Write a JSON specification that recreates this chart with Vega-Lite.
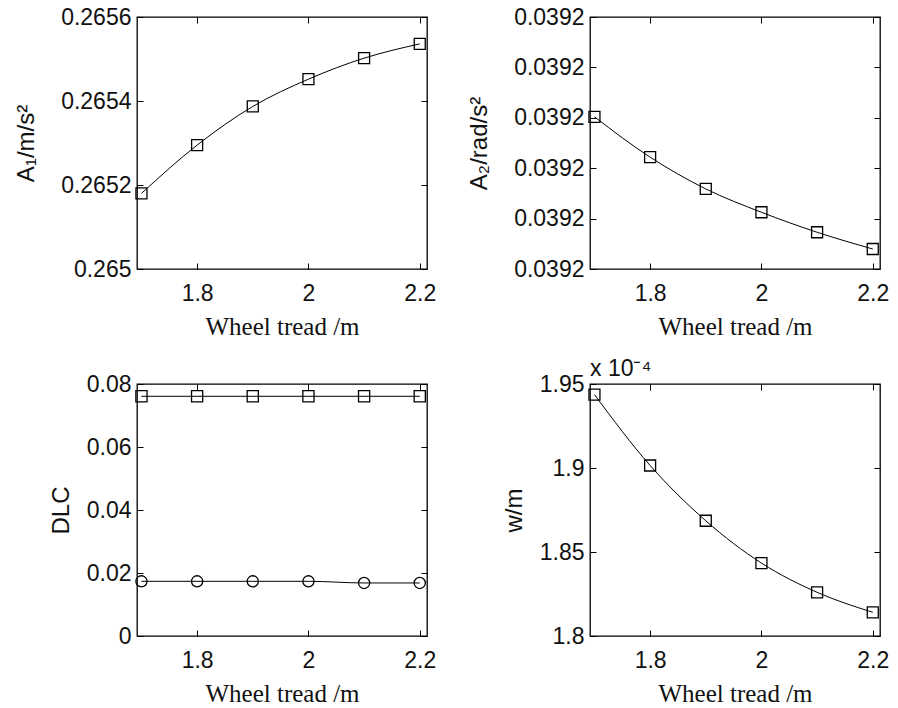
{
  "$schema": "https://vega.github.io/schema/vega-lite/v6.json",
  "background": "white",
  "padding": {"left": 14, "top": 5, "right": 5, "bottom": 5},
  "columns": 2,
  "bounds": "flush",
  "spacing": {"row": 115, "column": 163},
  "datasets": {
    "accel": [
      {"wheel": 1.7, "a1": 0.26518, "a2": 0.0392003020},
      {"wheel": 1.8, "a1": 0.265295, "a2": 0.0392002219},
      {"wheel": 1.9, "a1": 0.265387, "a2": 0.0392001589},
      {"wheel": 2.0, "a1": 0.265452, "a2": 0.0392001126},
      {"wheel": 2.1, "a1": 0.265502, "a2": 0.0392000729},
      {"wheel": 2.2, "a1": 0.265536, "a2": 0.0392000397}
    ],
    "dlc": [
      {"wheel": 1.7, "dlc": 0.0761, "marker": "square"},
      {"wheel": 1.8, "dlc": 0.0761, "marker": "square"},
      {"wheel": 1.9, "dlc": 0.0761, "marker": "square"},
      {"wheel": 2.0, "dlc": 0.0761, "marker": "square"},
      {"wheel": 2.1, "dlc": 0.0761, "marker": "square"},
      {"wheel": 2.2, "dlc": 0.0761, "marker": "square"},
      {"wheel": 1.7, "dlc": 0.01736, "marker": "circle"},
      {"wheel": 1.8, "dlc": 0.01736, "marker": "circle"},
      {"wheel": 1.9, "dlc": 0.01736, "marker": "circle"},
      {"wheel": 2.0, "dlc": 0.01736, "marker": "circle"},
      {"wheel": 2.1, "dlc": 0.01684, "marker": "circle"},
      {"wheel": 2.2, "dlc": 0.01684, "marker": "circle"}
    ],
    "wear": [
      {"wheel": 1.7, "w": 1.9437},
      {"wheel": 1.8, "w": 1.9015},
      {"wheel": 1.9, "w": 1.8686},
      {"wheel": 2.0, "w": 1.8434},
      {"wheel": 2.1, "w": 1.8260},
      {"wheel": 2.2, "w": 1.8141}
    ]
  },
  "config": {
    "font": "Liberation Sans",
    "view": {"stroke": "#000", "strokeWidth": 1.3},
    "axis": {
      "domain": false,
      "grid": false,
      "tickColor": "#000",
      "tickSize": -6,
      "tickWidth": 1,
      "labelFont": "Liberation Sans",
      "labelFontSize": 23,
      "labelColor": "#111",
      "titleFont": "Liberation Sans",
      "titleFontSize": 24,
      "titleFontWeight": "normal",
      "titleColor": "#111"
    },
    "axisX": {"titleFont": "Liberation Serif", "titleFontSize": 25, "labelPadding": 19, "titlePadding": 9},
    "axisY": {"labelPadding": 12, "titlePadding": 13}
  },
  "concat": [
    {
      "width": 290,
      "height": 252,
      "data": {"name": "accel"},
      "layer": [
        {
          "mark": {"type": "line", "interpolate": "monotone", "color": "#000", "strokeWidth": 1},
          "encoding": {
            "x": {"field": "wheel", "type": "quantitative", "scale": {"domain": [1.692, 2.213], "nice": false, "zero": false}, "axis": {"values": [1.8, 2, 2.2], "format": "~g", "title": "Wheel tread /m"}},
            "y": {"field": "a1", "type": "quantitative", "scale": {"domain": [0.265, 0.2656], "nice": false, "zero": false}, "axis": {"values": [0.265, 0.2652, 0.2654, 0.2656], "format": ".4~f", "title": "A₁/m/s²", "titlePadding": 22}}
          }
        },
        {
          "mark": {"type": "point", "shape": "square", "size": 121, "filled": false, "color": "#000", "strokeWidth": 1.3, "opacity": 1},
          "encoding": {
            "x": {"field": "wheel", "type": "quantitative", "axis": {"orient": "top", "labels": false, "title": null, "values": [1.8, 2, 2.2]}},
            "y": {"field": "a1", "type": "quantitative", "axis": {"orient": "right", "labels": false, "title": null, "values": [0.265, 0.2652, 0.2654, 0.2656]}}
          }
        }
      ],
      "resolve": {"axis": {"x": "independent", "y": "independent"}}
    },
    {
      "width": 290,
      "height": 252,
      "data": {"name": "accel"},
      "layer": [
        {
          "mark": {"type": "line", "interpolate": "monotone", "color": "#000", "strokeWidth": 1},
          "encoding": {
            "x": {"field": "wheel", "type": "quantitative", "scale": {"domain": [1.692, 2.213], "nice": false, "zero": false}, "axis": {"values": [1.8, 2, 2.2], "format": "~g", "title": "Wheel tread /m"}},
            "y": {"field": "a2", "type": "quantitative", "scale": {"domain": [0.0392, 0.0392005], "nice": false, "zero": false}, "axis": {"values": [0.0392, 0.0392001, 0.0392002, 0.0392003, 0.0392004, 0.0392005], "format": ".4f", "title": "A₂/rad/s²", "titlePadding": 22}}
          }
        },
        {
          "mark": {"type": "point", "shape": "square", "size": 121, "filled": false, "color": "#000", "strokeWidth": 1.3, "opacity": 1},
          "encoding": {
            "x": {"field": "wheel", "type": "quantitative", "axis": {"orient": "top", "labels": false, "title": null, "values": [1.8, 2, 2.2]}},
            "y": {"field": "a2", "type": "quantitative", "axis": {"orient": "right", "labels": false, "title": null, "values": [0.0392, 0.0392001, 0.0392002, 0.0392003, 0.0392004, 0.0392005]}}
          }
        }
      ],
      "resolve": {"axis": {"x": "independent", "y": "independent"}}
    },
    {
      "width": 290,
      "height": 252,
      "data": {"name": "dlc"},
      "layer": [
        {
          "mark": {"type": "line", "interpolate": "monotone", "color": "#000", "strokeWidth": 1},
          "encoding": {
            "x": {"field": "wheel", "type": "quantitative", "scale": {"domain": [1.692, 2.213], "nice": false, "zero": false}, "axis": {"values": [1.8, 2, 2.2], "format": "~g", "title": "Wheel tread /m"}},
            "y": {"field": "dlc", "type": "quantitative", "scale": {"domain": [0, 0.08], "nice": false}, "axis": {"values": [0, 0.02, 0.04, 0.06, 0.08], "format": ".2~f", "title": "DLC"}},
            "detail": {"field": "marker", "type": "nominal"}
          }
        },
        {
          "mark": {"type": "point", "size": 125, "filled": false, "color": "#000", "strokeWidth": 1.3, "opacity": 1},
          "encoding": {
            "x": {"field": "wheel", "type": "quantitative", "axis": {"orient": "top", "labels": false, "title": null, "values": [1.8, 2, 2.2]}},
            "y": {"field": "dlc", "type": "quantitative", "axis": {"orient": "right", "labels": false, "title": null, "values": [0, 0.02, 0.04, 0.06, 0.08]}},
            "shape": {"field": "marker", "type": "nominal", "scale": {"domain": ["square", "circle"], "range": ["square", "circle"]}, "legend": null}
          }
        }
      ],
      "resolve": {"axis": {"x": "independent", "y": "independent"}}
    },
    {
      "width": 290,
      "height": 252,
      "data": {"name": "wear"},
      "title": {"text": "x 10⁻⁴", "anchor": "start", "frame": "group", "font": "Liberation Sans", "fontSize": 23, "fontWeight": "normal", "color": "#111", "offset": -26, "baseline": "alphabetic"},
      "layer": [
        {
          "mark": {"type": "line", "interpolate": "monotone", "color": "#000", "strokeWidth": 1},
          "encoding": {
            "x": {"field": "wheel", "type": "quantitative", "scale": {"domain": [1.692, 2.213], "nice": false, "zero": false}, "axis": {"values": [1.8, 2, 2.2], "format": "~g", "title": "Wheel tread /m"}},
            "y": {"field": "w", "type": "quantitative", "scale": {"domain": [1.8, 1.95], "nice": false, "zero": false}, "axis": {"values": [1.8, 1.85, 1.9, 1.95], "format": ".2~f", "title": "w/m"}}
          }
        },
        {
          "mark": {"type": "point", "shape": "square", "size": 121, "filled": false, "color": "#000", "strokeWidth": 1.3, "opacity": 1},
          "encoding": {
            "x": {"field": "wheel", "type": "quantitative", "axis": {"orient": "top", "labels": false, "title": null, "values": [1.8, 2, 2.2]}},
            "y": {"field": "w", "type": "quantitative", "axis": {"orient": "right", "labels": false, "title": null, "values": [1.8, 1.85, 1.9, 1.95]}}
          }
        }
      ],
      "resolve": {"axis": {"x": "independent", "y": "independent"}}
    }
  ]
}
